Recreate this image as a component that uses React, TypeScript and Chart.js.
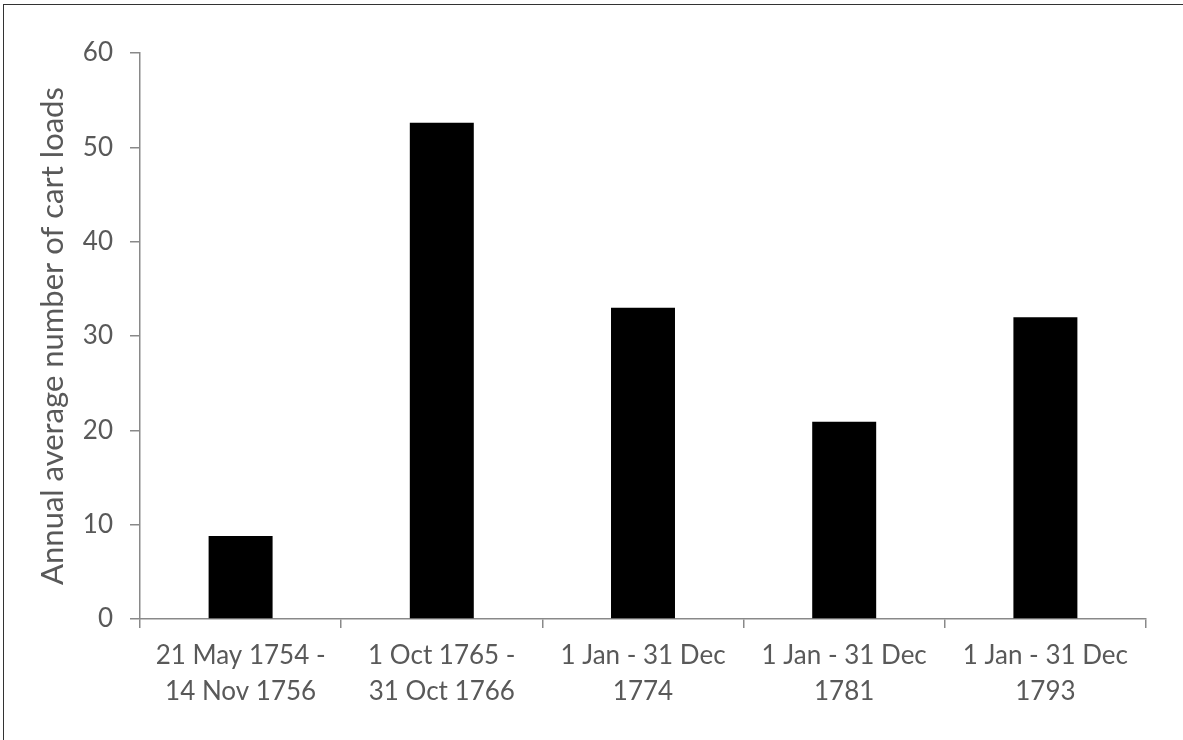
import React, { useEffect, useRef } from "react";
import { Chart, registerables } from "chart.js";

Chart.register(...registerables);

const categories: string[][] = [
  ["21 May 1754 -", "14 Nov 1756"],
  ["1 Oct 1765 -", "31 Oct 1766"],
  ["1 Jan - 31 Dec", "1774"],
  ["1 Jan - 31 Dec", "1781"],
  ["1 Jan - 31 Dec", "1793"],
];
const cartLoads: number[] = [8.8, 52.6, 33.0, 20.9, 32.0];
const yMin = 0;
const yMax = 60;
const yStep = 10;
const yTitle = "Annual average number of cart loads";

const TEXT = "#595959";
const AXIS = "#898989";
const FONT = "Lato, 'Open Sans', sans-serif";

export default function App() {
  const ref = useRef<HTMLCanvasElement | null>(null);

  useEffect(() => {
    document.body.style.margin = "0";
    if (!ref.current) return;
    const chart = new Chart(ref.current, {
      type: "bar",
      data: {
        labels: categories,
        datasets: [
          {
            data: cartLoads,
            backgroundColor: "#000000",
            borderWidth: 0,
            categoryPercentage: 1,
            barPercentage: 0.318,
          },
        ],
      },
      options: {
        animation: false,
        responsive: false,
        maintainAspectRatio: false,
        devicePixelRatio: 1,
        layout: { padding: { left: 0, top: 53, right: 37, bottom: 0 } },
        plugins: {
          legend: { display: false },
          tooltip: { enabled: false },
        },
        scales: {
          x: {
            grid: {
              display: true,
              offset: true,
              drawOnChartArea: false,
              drawTicks: true,
              tickLength: 9,
              color: AXIS,
              lineWidth: 1.5,
            },
            border: { display: true, color: AXIS, width: 1.5 },
            ticks: {
              color: TEXT,
              font: { family: FONT, size: 26, lineHeight: 1.37 },
              padding: 10,
              maxRotation: 0,
              autoSkip: false,
            },
            afterFit: (scale: any) => {
              scale.height = 121;
            },
          },
          y: {
            min: yMin,
            max: yMax,
            grid: {
              display: true,
              drawOnChartArea: false,
              drawTicks: true,
              tickLength: 10,
              color: AXIS,
              lineWidth: 1.5,
            },
            border: { display: true, color: AXIS, width: 1.5 },
            ticks: {
              stepSize: yStep,
              color: TEXT,
              font: { family: FONT, size: 26 },
              padding: 17,
            },
            title: {
              display: true,
              text: yTitle,
              color: TEXT,
              font: { family: FONT, size: 31, lineHeight: 1.2 },
              padding: { top: 34, bottom: 0 },
            },
            afterFit: (scale: any) => {
              scale.width = 140;
            },
          },
        },
      },
    });
    return () => chart.destroy();
  }, []);

  return (
    <div
      style={{
        position: "fixed",
        left: 0,
        top: 0,
        width: 1183,
        height: 740,
        overflow: "hidden",
        background: "#ffffff",
      }}
    >
      <div
        style={{
          position: "absolute",
          left: 3,
          top: 4,
          width: 1200,
          height: 760,
          border: "1.5px solid #333333",
          boxSizing: "border-box",
        }}
      />
      <canvas
        ref={ref}
        width={1183}
        height={740}
        style={{ position: "absolute", left: 0, top: 0, width: 1183, height: 740 }}
      />
    </div>
  );
}
